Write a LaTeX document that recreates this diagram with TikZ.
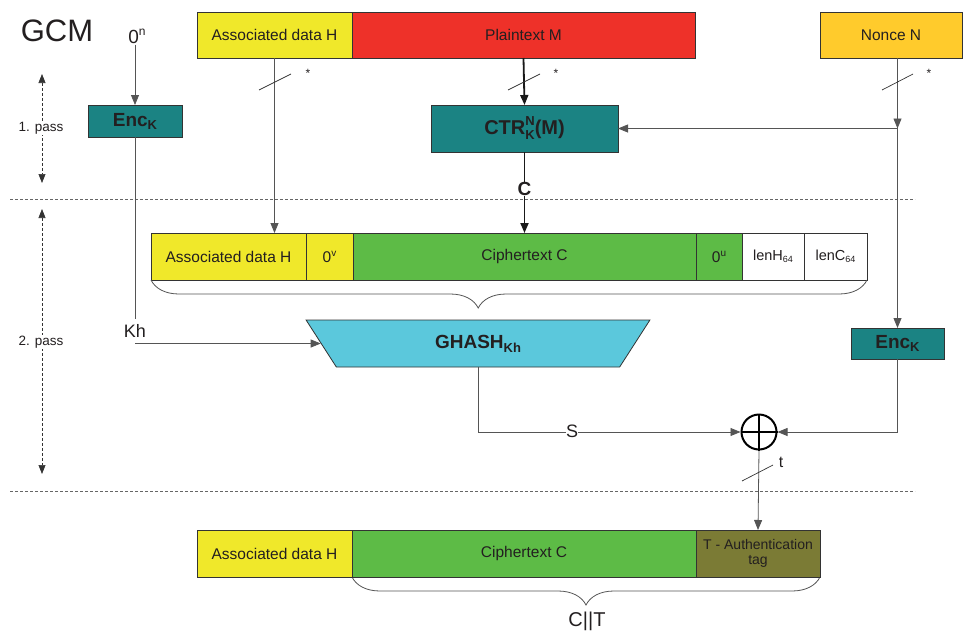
\documentclass[tikz,border=0pt]{standalone}
\usepackage{fontspec}
\setmainfont{Liberation Sans}
\usetikzlibrary{arrows.meta,shapes.geometric,decorations.pathreplacing,calc}
\definecolor{cyel}{HTML}{F0E82A}
\definecolor{cred}{HTML}{EE3129}
\definecolor{corg}{HTML}{FFCB2C}
\definecolor{cteal}{HTML}{1B8383}
\definecolor{cgreen}{HTML}{5DBB46}
\definecolor{cblue}{HTML}{5BC8DC}
\definecolor{colive}{HTML}{7B7B35}
\definecolor{ctext}{HTML}{231F20}
\definecolor{cline}{HTML}{555555}
\newcommand{\fs}[1]{\fontsize{#1}{#1}\selectfont}
\newcommand{\supx}[1]{\raisebox{6pt}{\fs{10}#1}}
\newcommand{\subx}[1]{\raisebox{-2.5pt}{\fs{9}#1}}
\begin{document}
\begin{tikzpicture}[x=1pt,y=-1pt,
  box/.style={draw=black!80, line width=0.8pt, anchor=north west, inner sep=0pt, outer sep=0pt, font=\fs{15.5}, text=ctext},
  conn/.style={draw=cline, line width=0.8pt},
  heavy/.style={draw=black!90, line width=1.8pt},
  tip/.style={-{Triangle[length=10pt,width=8pt]}},
  lbl/.style={inner sep=1pt, text=ctext},
  sep/.style={draw=black!60, line width=0.6pt, dash pattern=on 3pt off 2pt},
  passarrow/.style={draw=black!80, line width=0.6pt, dash pattern=on 3pt off 2pt, {Triangle[length=9pt,width=7pt]}-{Triangle[length=9pt,width=7pt]}},
  brc/.style={draw=cline, line width=0.8pt, decorate},
  slash/.style={draw=black!80, line width=0.7pt}]
\useasboundingbox (0,0) rectangle (964,632);

% title and labels
\node[lbl, font=\fs{31}] (gcm) at (57,31) {GCM};
\node[lbl, font=\fs{19}] (zeron) at (137,36) {0\raisebox{8pt}{\fs{12}n}};

% separators
\coordinate (d1a) at (10,199); \coordinate (d1b) at (915,199);
\coordinate (d2a) at (10,491); \coordinate (d2b) at (915,491);
\draw[sep] (d1a) -- (d1b);
\draw[sep] (d2a) -- (d2b);

% pass arrows
\coordinate (p1t) at (42,74); \coordinate (p1b) at (42,183);
\coordinate (p2t) at (42,209); \coordinate (p2b) at (42,474);
\draw[passarrow] (p1t) -- (p1b);
\draw[passarrow] (p2t) -- (p2b);
\node[lbl, fill=white, font=\fs{13.5}] (pass1) at (41,128) {1. pass};
\node[lbl, fill=white, font=\fs{13.5}] (pass2) at (41,342) {2. pass};

% top row
\node[box, fill=cyel, minimum width=155pt, minimum height=46pt] (adh) at (197,12) {Associated data H};
\node[box, fill=cred, minimum width=343pt, minimum height=46pt] (pt) at (352,12) {Plaintext M};
\node[box, fill=corg, minimum width=142pt, minimum height=46pt] (nonce) at (820,12) {Nonce N};

% Enc boxes and CTR
\node[box, fill=cteal, minimum width=94pt, minimum height=32pt, font=\bfseries\fs{19}] (enck) at (88,105) {Enc\raisebox{-3pt}{\fs{13}K}};
\node[box, fill=cteal, minimum width=187pt, minimum height=47pt, font=\bfseries\fs{20}] (ctr) at (431,105) {CTR\rlap{\raisebox{9pt}{\fs{13}N}}\raisebox{-5pt}{\fs{13}K}(M)};
\node[box, fill=cteal, minimum width=93pt, minimum height=31pt, font=\bfseries\fs{19}] (encr) at (851,328) {Enc\raisebox{-3pt}{\fs{13}K}};

% middle row
\node[box, fill=cyel, minimum width=155pt, minimum height=47pt] (madh) at (151,233) {Associated data H};
\node[box, fill=cyel, minimum width=47pt, minimum height=47pt] (mov) at (306,233) {0\supx{v}};
\node[box, fill=cgreen, minimum width=343pt, minimum height=47pt] (mct) at (353,233) {Ciphertext C};
\node[box, fill=cgreen, minimum width=46pt, minimum height=47pt] (mou) at (696,233) {0\supx{u}};
\node[box, fill=white, minimum width=62pt, minimum height=47pt, font=\fs{14.5}] (mlh) at (742,233) {lenH\subx{64}};
\node[box, fill=white, minimum width=63pt, minimum height=47pt, font=\fs{14.5}] (mlc) at (804,233) {lenC\subx{64}};

% braces
\coordinate (b1a) at (151,280); \coordinate (b1b) at (867,280);
\draw[brc, decoration={brace, mirror, amplitude=28pt, aspect=0.457}] (b1a) -- (b1b);
\coordinate (b2a) at (352,577); \coordinate (b2b) at (820,577);
\draw[brc, decoration={brace, mirror, amplitude=28pt, aspect=0.5}] (b2a) -- (b2b);
\node[lbl, font=\fs{20}] (ct) at (587,621) {C||T};

% GHASH
\node[trapezium, shape border rotate=180, trapezium angle=62, trapezium stretches=true,
      minimum width=344pt, minimum height=47pt, draw=black!80, line width=0.8pt, fill=cblue, inner sep=0pt,
      font=\bfseries\fs{19}, text=ctext] (gh) at (478,343.5) {GHASH\raisebox{-4pt}{\fs{13}Kh}};

% XOR
\node[circle, draw=black, line width=2pt, minimum size=35pt, inner sep=0pt] (xor) at (759,432) {};
\draw[line width=2pt] (xor.north) -- (xor.south) (xor.west) -- (xor.east);

% bottom row
\node[box, fill=cyel, minimum width=155pt, minimum height=47pt] (badh) at (197,530) {Associated data H};
\node[box, fill=cgreen, minimum width=344pt, minimum height=47pt] (bct) at (352,530) {Ciphertext C};
\node[box, fill=colive, minimum width=124pt, minimum height=47pt, font=\fs{14}, align=center] (btag) at (696,530) {T - Authentication\\[1pt]tag};

% connectors
\draw[conn, tip] (zeron.south -| enck.north) -- (enck.north);
\draw[conn, tip] (enck.south) |- (gh.west);
\node[lbl, fill=white, font=\fs{18}, minimum height=24pt, inner sep=0pt] (kh) at (135,331) {Kh};

\draw[conn, tip] (adh.south) -- (adh.south |- madh.north);
\draw[heavy, tip] (pt.south) -- (ctr.north);
\draw[heavy, tip] (ctr.south) -- (mct.north);
\node[lbl, fill=white, font=\bfseries\fs{19}, inner sep=0.5pt] (clbl) at (524.5,189) {C};

\coordinate (j) at (ctr.east -| encr.north);
\draw[conn, tip] (nonce.south -| encr.north) -- (j);
\draw[conn, tip] (j) -- (encr.north);
\draw[conn, tip] (j) -- (ctr.east);

\draw[conn, tip] (gh.south) |- (xor.west);
\node[lbl, fill=white, font=\fs{18}, inner sep=0pt] (slbl) at (572,431) {S};
\draw[conn, tip] (encr.south) |- (xor.east);
\draw[conn, tip] (xor.south) -- (btag.north);

% slashes and stars
\draw[slash] (259,90) -- (291,74);
\draw[slash] (508,90) -- (540,74);
\draw[slash] (882,90) -- (913,74);
\draw[slash] (742,481) -- (773,465);
\node[lbl, font=\fs{12}] (st1) at (308,73) {*};
\node[lbl, font=\fs{12}] (st2) at (556,73) {*};
\node[lbl, font=\fs{12}] (st3) at (929,73) {*};
\node[lbl, font=\fs{16}] (tl) at (781,462) {t};
\end{tikzpicture}
\end{document}
